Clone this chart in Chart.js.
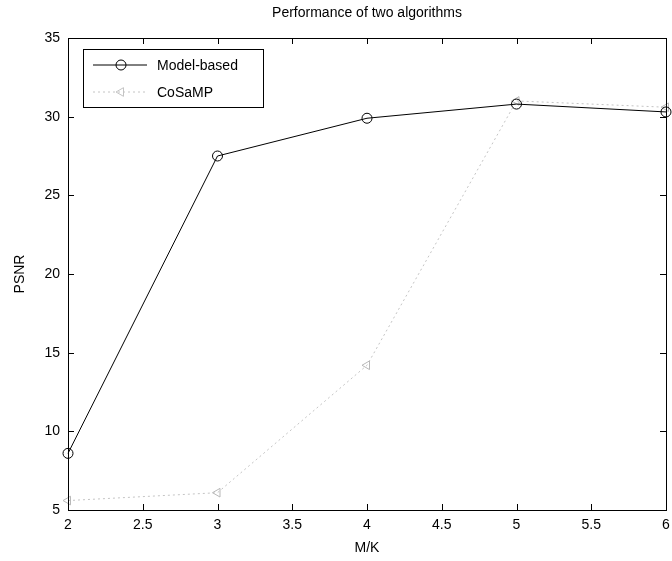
<!DOCTYPE html>
<html>
<head>
<meta charset="utf-8">
<script src="https://cdn.jsdelivr.net/npm/chart.js@4"></script>
<style>
  html, body { margin: 0; padding: 0; background: #fff; }
  #wrap { width: 672px; height: 561px; }
</style>
</head>
<body>
<div id="wrap"><canvas id="psnrChart" width="672" height="561"></canvas></div>
<script>
// M/K ratios and PSNR values
const ratios = [2, 3, 4, 5, 6];
const modelBased = [8.6, 27.5, 29.9, 30.8, 30.3];
const cosamp = [5.6, 6.1, 14.2, 31.0, 30.6];
const xTicks = [2, 2.5, 3, 3.5, 4, 4.5, 5, 5.5, 6];
const yTicks = [5, 10, 15, 20, 25, 30, 35];

const FONT = 'Liberation Sans, Arial, sans-serif';

function toPoints(ys) {
    return ratios.map((x, i) => ({ x: x, y: ys[i] }));
}

// frame with inward ticks on all sides, plus the title and the legend box
const matlabFrame = {
    id: 'matlabFrame',
    afterDraw(chart) {
        const ctx = chart.ctx;
        const a = chart.chartArea;
        const xs = chart.scales.x, ys = chart.scales.y;
        ctx.save();
        ctx.strokeStyle = '#000';
        ctx.lineWidth = 1;
        ctx.strokeRect(a.left + 0.5, a.top + 0.5, a.right - a.left, a.bottom - a.top);
        ctx.beginPath();
        xTicks.forEach(v => {
            const px = Math.round(xs.getPixelForValue(v)) + 0.5;
            ctx.moveTo(px, a.bottom); ctx.lineTo(px, a.bottom - 6);
            ctx.moveTo(px, a.top); ctx.lineTo(px, a.top + 6);
        });
        yTicks.forEach(v => {
            const py = Math.round(ys.getPixelForValue(v)) + 0.5;
            ctx.moveTo(a.left, py); ctx.lineTo(a.left + 6, py);
            ctx.moveTo(a.right, py); ctx.lineTo(a.right - 6, py);
        });
        ctx.stroke();

        // title
        ctx.fillStyle = '#000';
        ctx.font = '14px ' + FONT;
        ctx.textAlign = 'center';
        ctx.textBaseline = 'middle';
        ctx.fillText('Performance of two algorithms', (a.left + a.right) / 2, 13);

        // legend
        const bx = a.left + 15, by = a.top + 11, bw = 180, bh = 58;
        ctx.fillStyle = '#fff';
        ctx.fillRect(bx, by, bw, bh);
        ctx.strokeRect(bx + 0.5, by + 0.5, bw, bh);
        const rows = [
            { label: 'Model-based', color: '#000', dash: [], style: 'circle', rot: 0 },
            { label: 'CoSaMP', color: '#c4c4c4', dash: [2, 3], style: 'triangle', rot: -90 }
        ];
        rows.forEach((r, i) => {
            const cy = by + 16 + i * 27;
            ctx.strokeStyle = r.color;
            ctx.setLineDash(r.dash);
            ctx.beginPath();
            ctx.moveTo(bx + 10, cy); ctx.lineTo(bx + 64, cy);
            ctx.stroke();
            ctx.setLineDash([]);
            ctx.fillStyle = 'rgba(0,0,0,0)';
            Chart.helpers.drawPoint(ctx, {
                pointStyle: r.style, radius: 5, rotation: r.rot, borderWidth: 1
            }, bx + 38, cy);
            ctx.fillStyle = '#000';
            ctx.textAlign = 'left';
            ctx.font = '14px ' + FONT;
            ctx.fillText(r.label, bx + 74, cy + 1);
        });
        ctx.restore();
    }
};

new Chart(document.getElementById('psnrChart'), {
    type: 'line',
    data: {
        datasets: [
            {
                label: 'Model-based',
                data: toPoints(modelBased),
                borderColor: '#000',
                borderWidth: 1,
                pointStyle: 'circle',
                pointRadius: 5,
                pointBorderColor: '#000',
                pointBackgroundColor: 'rgba(0,0,0,0)',
                pointBorderWidth: 1,
                tension: 0
            },
            {
                label: 'CoSaMP',
                data: toPoints(cosamp),
                borderColor: '#c4c4c4',
                borderWidth: 1,
                borderDash: [2, 3],
                pointStyle: 'triangle',
                pointRotation: -90,
                pointRadius: 5,
                pointBorderColor: '#b8b8b8',
                pointBackgroundColor: 'rgba(0,0,0,0)',
                pointBorderWidth: 1,
                tension: 0
            }
        ]
    },
    options: {
        responsive: false,
        animation: false,
        clip: false,
        layout: { padding: { top: 38, right: 3, left: 0, bottom: 0 } },
        plugins: {
            legend: { display: false },
            tooltip: { enabled: false }
        },
        scales: {
            x: {
                type: 'linear',
                min: 2,
                max: 6,
                afterBuildTicks: s => { s.ticks = xTicks.map(v => ({ value: v })); },
                afterFit: s => { s.height = 51; s.paddingRight = 0; },
                grid: { display: false, drawTicks: false },
                border: { display: false },
                ticks: { color: '#000', font: { size: 14, family: FONT }, padding: 7, callback: v => String(v) },
                title: { display: true, text: 'M/K', color: '#000', font: { size: 14, family: FONT }, padding: { top: 4 } }
            },
            y: {
                type: 'linear',
                min: 5,
                max: 35,
                afterBuildTicks: s => { s.ticks = yTicks.map(v => ({ value: v })); },
                afterFit: s => { s.width = 68; },
                grid: { display: false, drawTicks: false },
                border: { display: false },
                ticks: { color: '#000', font: { size: 14, family: FONT }, padding: 8, callback: v => String(v) },
                title: { display: true, text: 'PSNR', color: '#000', font: { size: 14, family: FONT }, padding: { bottom: 0, top: 12 } }
            }
        }
    },
    plugins: [matlabFrame]
});
</script>
</body>
</html>
